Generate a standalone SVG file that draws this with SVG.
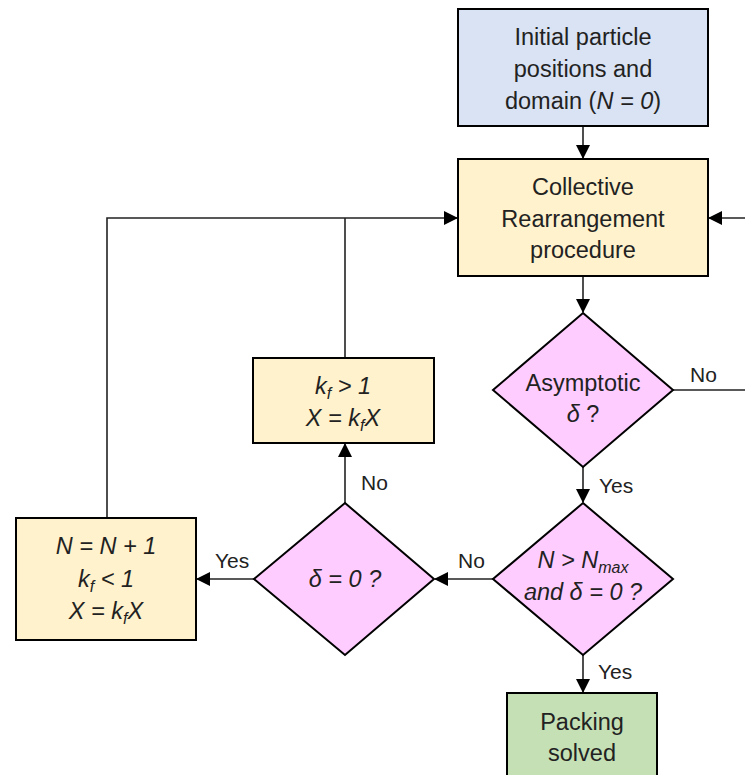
<svg xmlns="http://www.w3.org/2000/svg" width="745" height="775" viewBox="0 0 745 775">
<style>
.box{stroke:#000;stroke-width:2}
.blue{fill:#dae3f3}
.yel{fill:#fff2cc}
.pink{fill:#ffccff}
.green{fill:#c5e0b4}
.t{font-family:"Liberation Sans",Arial,sans-serif;font-size:23.5px;fill:#222;text-anchor:middle}
.lab{font-family:"Liberation Sans",Arial,sans-serif;font-size:21px;fill:#222}
.i{font-style:italic}
.sub{font-size:16px}
.c{fill:none;stroke:#222;stroke-width:1.6}
</style>
<defs>
<marker id="ah" markerUnits="userSpaceOnUse" markerWidth="14" markerHeight="14" viewBox="0 0 14 14" refX="13" refY="7" orient="auto">
<path d="M0,0 L14,7 L0,14 Z" fill="#000"/>
</marker>
</defs>
<g id="connectors">
<line class="c" x1="583" y1="126" x2="583" y2="158" marker-end="url(#ah)"/>
<line class="c" x1="583" y1="276" x2="583" y2="312" marker-end="url(#ah)"/>
<line class="c" x1="583" y1="467" x2="583" y2="502" marker-end="url(#ah)"/>
<line class="c" x1="583" y1="655" x2="583" y2="692" marker-end="url(#ah)"/>
<line class="c" x1="493" y1="579" x2="435" y2="579" marker-end="url(#ah)"/>
<line class="c" x1="254" y1="579" x2="197" y2="579" marker-end="url(#ah)"/>
<line class="c" x1="345" y1="503" x2="345" y2="444" marker-end="url(#ah)"/>
<polyline class="c" points="107,518 107,218 457,218" marker-end="url(#ah)"/>
<line class="c" x1="345" y1="358" x2="345" y2="218"/>
<line class="c" x1="673" y1="390" x2="745" y2="390"/>
<line class="c" x1="745" y1="218" x2="709" y2="218" marker-end="url(#ah)"/>
<text class="lab" x="690" y="382">No</text>
<text class="lab" x="599" y="493">Yes</text>
<text class="lab" x="361" y="490">No</text>
<text class="lab" x="215" y="568">Yes</text>
<text class="lab" x="458" y="568">No</text>
<text class="lab" x="598" y="679">Yes</text>
</g>
<g id="init">
<rect class="box blue" x="458" y="9" width="250" height="117"/>
<text class="t" x="583" y="45">Initial particle</text>
<text class="t" x="583" y="77">positions and</text>
<text class="t" x="583" y="109">domain (<tspan class="i">N = 0</tspan>)</text>
</g>
<g id="collective">
<rect class="box yel" x="458" y="159" width="250" height="117"/>
<text class="t" x="583" y="195">Collective</text>
<text class="t" x="583" y="227">Rearrangement</text>
<text class="t" x="583" y="258">procedure</text>
</g>
<g id="asymptotic">
<polygon class="box pink" points="583,313 673,390 583,467 493,390"/>
<text class="t" x="583" y="391">Asymptotic</text>
<text class="t" x="583" y="422"><tspan class="i">δ</tspan> ?</text>
</g>
<g id="kfup">
<rect class="box yel" x="253" y="358" width="181" height="85"/>
<text class="t i" x="343" y="394">k<tspan class="sub" dy="5">f</tspan><tspan dy="-5"> &gt; 1</tspan></text>
<text class="t i" x="343" y="426">X = k<tspan class="sub" dy="5">f</tspan><tspan dy="-5">X</tspan></text>
</g>
<g id="kfdown">
<rect class="box yel" x="16" y="518" width="180" height="122"/>
<text class="t i" x="106" y="554">N = N + 1</text>
<text class="t i" x="106" y="587">k<tspan class="sub" dy="5">f</tspan><tspan dy="-5"> &lt; 1</tspan></text>
<text class="t i" x="106" y="619">X = k<tspan class="sub" dy="5">f</tspan><tspan dy="-5">X</tspan></text>
</g>
<g id="deltazero">
<polygon class="box pink" points="345,503 434,579 345,655 254,579"/>
<text class="t i" x="345" y="587">δ = 0 ?</text>
</g>
<g id="nmax">
<polygon class="box pink" points="583,503 673,579 583,655 493,579"/>
<text class="t i" x="583" y="568">N &gt; N<tspan class="sub" dy="5">max</tspan></text>
<text class="t i" x="583" y="600">and δ = 0 ?</text>
</g>
<g id="solved">
<rect class="box green" x="507" y="693" width="150" height="90"/>
<text class="t" x="582" y="730">Packing</text>
<text class="t" x="582" y="761">solved</text>
</g>
</svg>
